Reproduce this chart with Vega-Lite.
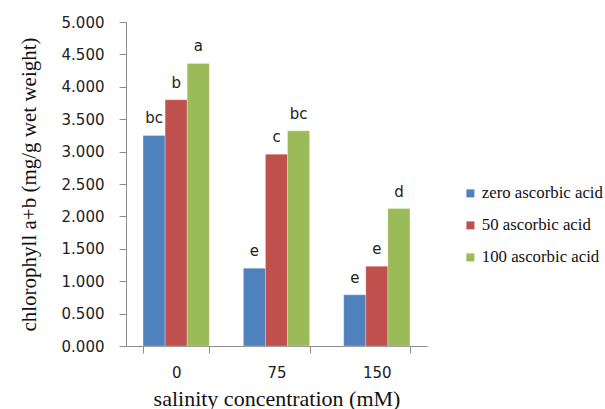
{
  "$schema": "https://vega.github.io/schema/vega-lite/v6.json",
  "width": 301,
  "height": 324,
  "autosize": "none",
  "padding": {"left": 126, "top": 22, "right": 178, "bottom": 63},
  "background": "white",
  "config": {"view": {"stroke": null}},
  "data": {
    "values": [
      {"sal": "0", "treatment": "zero ascorbic acid", "value": 3.25, "letter": "bc"},
      {"sal": "0", "treatment": "50 ascorbic acid", "value": 3.8, "letter": "b"},
      {"sal": "0", "treatment": "100 ascorbic acid", "value": 4.36, "letter": "a"},
      {"sal": "75", "treatment": "zero ascorbic acid", "value": 1.2, "letter": "e"},
      {"sal": "75", "treatment": "50 ascorbic acid", "value": 2.96, "letter": "c"},
      {"sal": "75", "treatment": "100 ascorbic acid", "value": 3.32, "letter": "bc"},
      {"sal": "150", "treatment": "zero ascorbic acid", "value": 0.79, "letter": "e"},
      {"sal": "150", "treatment": "50 ascorbic acid", "value": 1.23, "letter": "e"},
      {"sal": "150", "treatment": "100 ascorbic acid", "value": 2.12, "letter": "d"}
    ]
  },
  "encoding": {
    "x": {
      "field": "sal", "type": "nominal", "sort": ["0", "75", "150"],
      "scale": {"paddingInner": 0.34, "paddingOuter": 0.17},
      "axis": {
        "title": "salinity concentration (mM)",
        "labelAngle": 0,
        "tickBand": "extent",
        "domainColor": "#8c8c8c",
        "tickColor": "#8c8c8c",
        "tickSize": 7,
        "labelPadding": 12,
        "labelFont": "DejaVu Sans",
        "labelFontSize": 15,
        "labelColor": "#222",
        "titleFont": "Liberation Serif",
        "titleFontSize": 22,
        "titleFontWeight": "normal",
        "titleColor": "#111",
        "titlePadding": 8
      }
    },
    "xOffset": {"field": "treatment", "type": "nominal", "sort": ["zero ascorbic acid", "50 ascorbic acid", "100 ascorbic acid"], "scale": {"paddingInner": 0, "paddingOuter": 0}},
    "y": {
      "field": "value", "type": "quantitative",
      "scale": {"domain": [0, 5]},
      "axis": {
        "title": "chlorophyll a+b (mg/g wet weight)",
        "values": [0, 0.5, 1, 1.5, 2, 2.5, 3, 3.5, 4, 4.5, 5],
        "format": ".3f",
        "grid": false,
        "domainColor": "#8c8c8c",
        "tickColor": "#8c8c8c",
        "tickSize": 7,
        "labelPadding": 15,
        "labelFont": "DejaVu Sans",
        "labelFontSize": 15,
        "labelColor": "#222",
        "titleFont": "Liberation Serif",
        "titleFontSize": 21,
        "titleFontWeight": "normal",
        "titleColor": "#111",
        "titlePadding": 22
      }
    }
  },
  "layer": [
    {
      "mark": {"type": "bar", "stroke": "white", "strokeOpacity": 0.35, "strokeWidth": 0.8},
      "encoding": {
        "color": {
          "field": "treatment", "type": "nominal",
          "sort": ["zero ascorbic acid", "50 ascorbic acid", "100 ascorbic acid"],
          "scale": {"domain": ["zero ascorbic acid", "50 ascorbic acid", "100 ascorbic acid"], "range": ["#4F81BD", "#C0504D", "#9BBB59"]},
          "legend": {
            "title": null,
            "orient": "none",
            "legendX": 336,
            "legendY": 163,
            "symbolType": "square",
            "symbolSize": 64,
            "symbolStrokeWidth": 0,
            "labelFont": "Liberation Serif",
            "labelFontSize": 16.8,
            "labelColor": "#111",
            "labelOffset": 3,
            "rowPadding": 14
          }
        }
      }
    },
    {
      "mark": {"type": "text", "baseline": "alphabetic", "dy": -12, "font": "DejaVu Sans", "fontSize": 15, "color": "#222"},
      "encoding": {"text": {"field": "letter"}}
    }
  ]
}
